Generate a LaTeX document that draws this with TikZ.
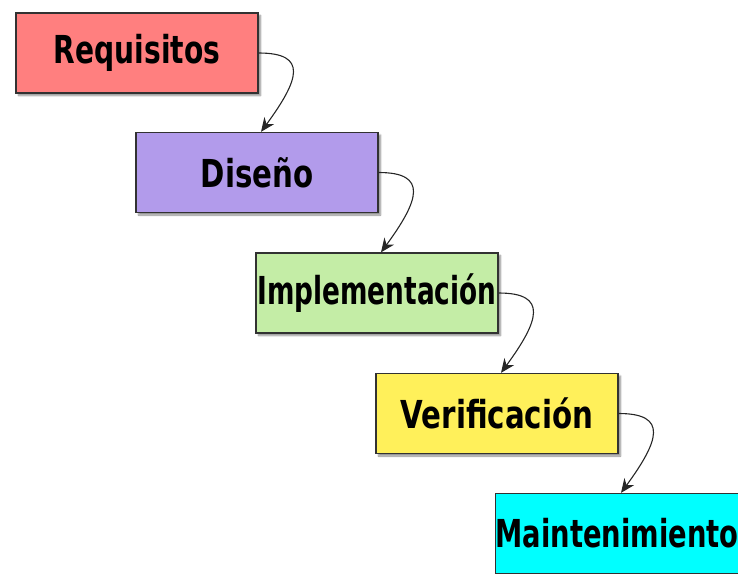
\documentclass[tikz,border=0pt]{standalone}
\usepackage{fontspec}
\usetikzlibrary{arrows.meta,shadows.blur}
\newfontfamily\boxfont[FakeStretch=0.845]{DejaVu Sans Condensed Bold}
\definecolor{cReq}{RGB}{255,127,127}
\definecolor{cDis}{RGB}{178,155,235}
\definecolor{cImp}{RGB}{196,237,166}
\definecolor{cVer}{RGB}{255,240,90}
\definecolor{cMai}{RGB}{0,255,255}
\definecolor{cBorder}{RGB}{50,50,50}
\tikzset{
  phase/.style={draw=cBorder, line width=1.3pt, minimum width=242pt, minimum height=80pt,
    inner sep=0pt, font=\boxfont\fontsize{38.5pt}{40pt}\selectfont,
    blur shadow={shadow xshift=2.5pt, shadow yshift=-2.5pt, shadow blur steps=6, shadow opacity=45}},
  flow/.style={draw=black!85, line width=1.1pt, -{Stealth[length=14pt,width=12pt]}}
}
\begin{document}
\begin{tikzpicture}[x=1pt,y=-1pt]
\useasboundingbox (0,0) rectangle (738,573);
\node[phase, fill=cReq] (req) at (137,53) {\scalebox{0.96}[1]{Requisitos}};
\node[phase, fill=cDis] (dis) at (257,172.5) {Diseño};
\node[phase, fill=cImp] (imp) at (377,293) {\scalebox{0.9}[1]{Implementación}};
\node[phase, fill=cVer] (ver) at (497,413.5) {Verificación};
\node[phase, fill=cMai] (mai) at (617,533.5) {\scalebox{0.935}[1]{Maintenimiento}};
\foreach \a/\b in {req/dis, dis/imp, imp/ver, ver/mai}{
  \draw[flow] (\a.east) .. controls +(50,0) and +(38,-52) .. ([xshift=4pt]\b.north);
}
\end{tikzpicture}
\end{document}
